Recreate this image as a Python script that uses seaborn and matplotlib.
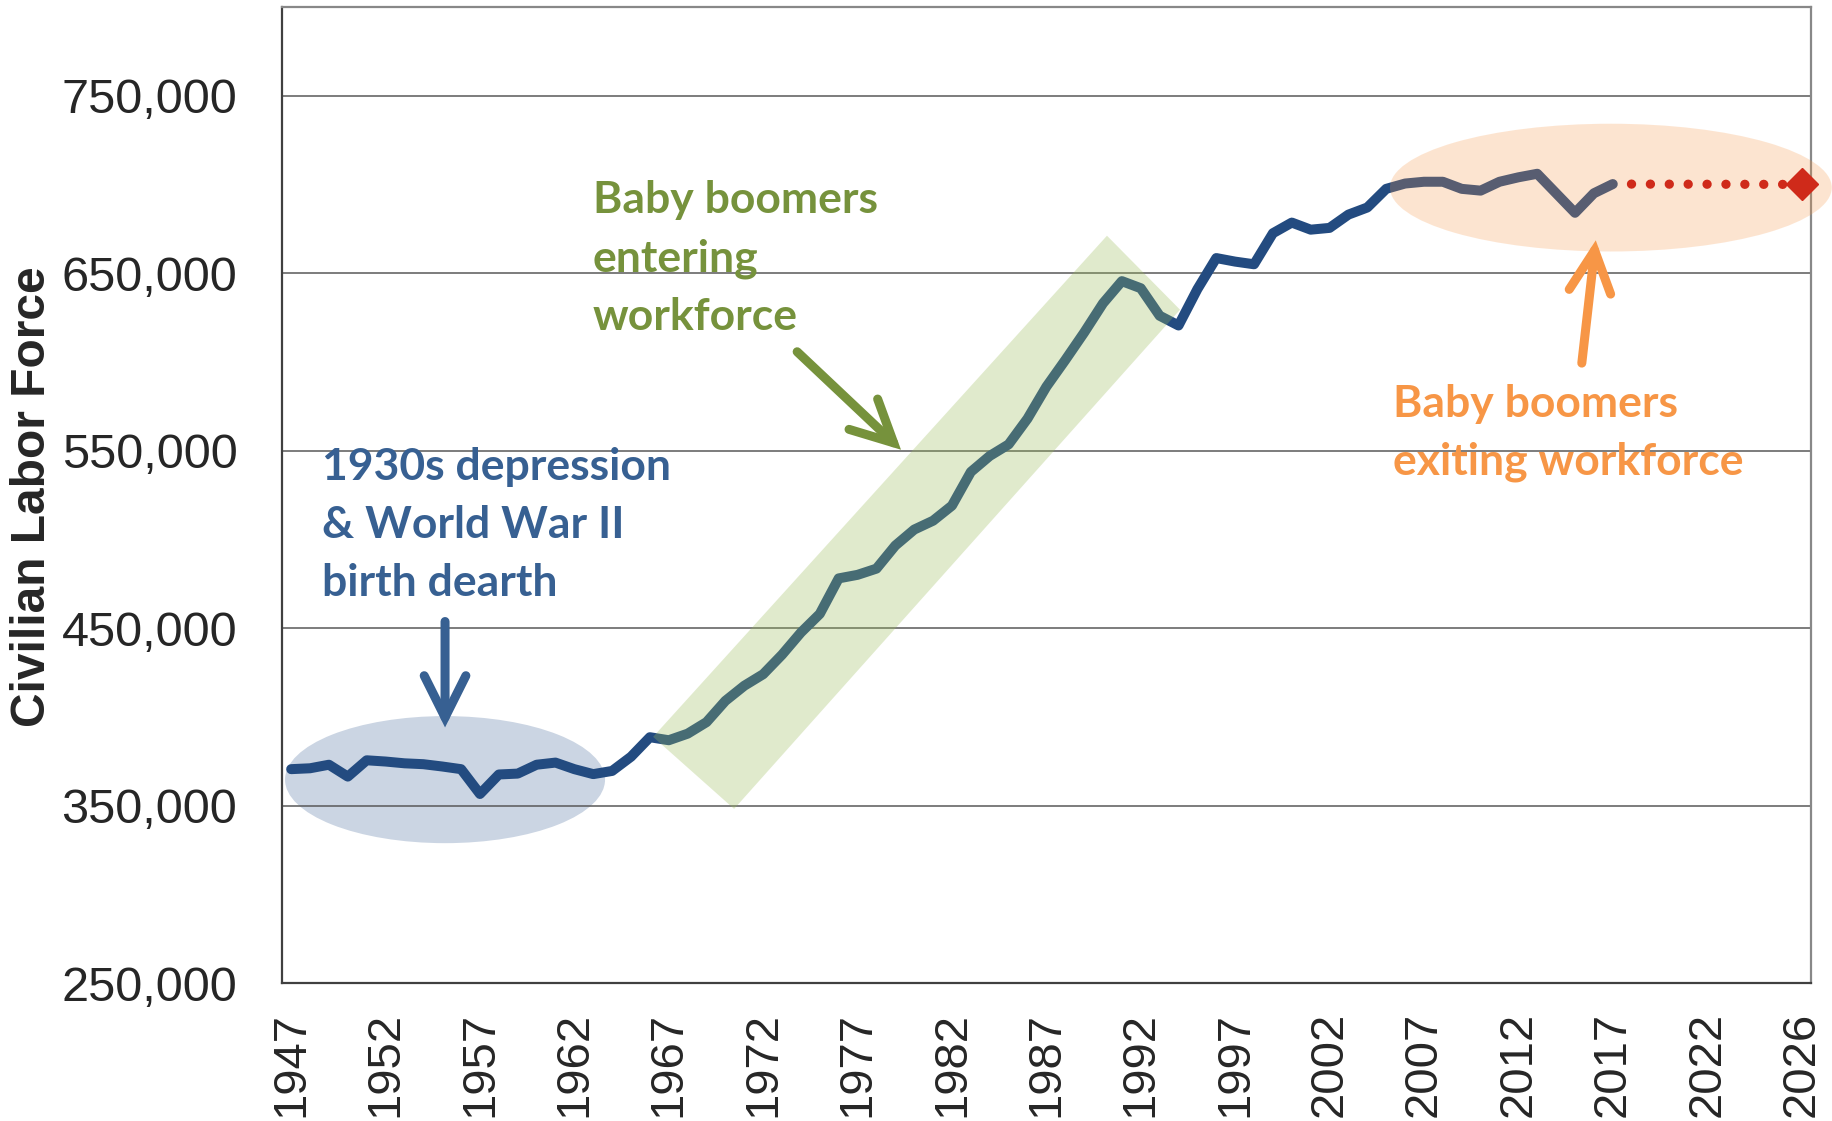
import numpy as np
import matplotlib.pyplot as plt
import seaborn as sns
from matplotlib.patches import Ellipse, Polygon
from matplotlib.ticker import FuncFormatter

# Civilian labor force, one value per year 1947-2017
labor_force = [370500, 371000, 373000, 366300, 375500, 374800, 373800, 373300, 372000, 370500,
               356500, 367500, 368000, 373000, 374200, 370500, 367700, 369500, 377500, 388500,
               386800, 390500, 397000, 409000, 417500, 424000, 435000, 447500, 458000, 478000,
               480000, 483500, 496500, 505500, 510500, 519000, 538000, 547000, 553500, 568000,
               586000, 601000, 616500, 633000, 645500, 641500, 626000, 620500, 641000, 658500,
               656500, 655000, 672500, 678500, 674500, 675500, 683000, 687000, 697500, 700500,
               701500, 701500, 697500, 696500, 701500, 704000, 706000, 695000, 684000, 695000,
               700200]
# projection: from the last actual year out to the end of the axis
proj_slots = [70, 80]
proj_values = [700200, 700000]

tick_slots = list(range(0, 81, 5))
tick_labels = ['1947', '1952', '1957', '1962', '1967', '1972', '1977', '1982', '1987',
               '1992', '1997', '2002', '2007', '2012', '2017', '2022', '2026']
y_ticks = [250000, 350000, 450000, 550000, 650000, 750000]

sns.set_style('white')
plt.rcParams['font.family'] = ['Liberation Sans', 'DejaVu Sans']

fig = plt.figure(figsize=(18.33, 11.21), dpi=100)
ax = fig.add_axes([0.1537, 0.1231, 0.8343, 0.8707])

x_actual = np.arange(len(labor_force))
sns.lineplot(x=x_actual, y=labor_force, ax=ax, color='#234B80', linewidth=7.2,
             solid_capstyle='round', solid_joinstyle='round', zorder=3)

red = '#CF2A1A'
ax.plot(proj_slots, proj_values, color=red, lw=6.7, linestyle=(0.02, (0.01, 2.02)),
        dash_capstyle='round', zorder=6)
ax.plot(proj_slots[-1], proj_values[-1], marker='D', ms=16.5, color=red, zorder=7,
        clip_on=False)

# highlight shapes
ax.add_patch(Ellipse((8.15, 364600), 16.95, 71600, facecolor='#CBD5E3', edgecolor='none', zorder=0.3))
ax.add_patch(Polygon([(19.17, 388700), (43.21, 671100), (47.08, 629400), (23.46, 348100)],
                     facecolor='#9BBB59', edgecolor='none', alpha=0.3, zorder=4))
ax.add_patch(Ellipse((69.9, 698200), 23.4, 72000, facecolor='#F79646', edgecolor='none',
                     alpha=0.25, zorder=4, clip_on=False))

# annotations (y = baseline of the last line)
note_font = dict(family=['Lato', 'DejaVu Sans'], fontweight='bold', fontsize=32,
                 va='baseline', ha='left', linespacing=1.55, zorder=8)
ax.text(1.62, 467800, '1930s depression\n& World War II\nbirth dearth', color='#376092', **note_font)
ax.text(15.97, 618100, 'Baby boomers\nentering\nworkforce', color='#76923C', **note_font)
ax.text(58.38, 536400, 'Baby boomers\nexiting workforce', color='#F79646', **note_font)

def arrow(tail, tip, color):
    ax.annotate('', xy=tip, xytext=tail, zorder=8,
                arrowprops=dict(arrowstyle='->,head_length=1.5,head_width=0.75', mutation_scale=20,
                                color=color, lw=6.5, shrinkA=0, shrinkB=0,
                                capstyle='round', joinstyle='miter'))

arrow((8.15, 453700), (8.15, 394000), '#376092')
arrow((26.8, 605700), (32.3, 550500), '#76923C')
arrow((68.36, 599300), (69.1, 668500), '#F79646')

# axes styling
ax.set_xlim(-0.5, 80.5)
ax.set_ylim(250000, 800000)
ax.set_xticks(tick_slots)
ax.set_xticklabels(tick_labels, rotation=90)
ax.set_xticks(np.arange(-0.5, 81, 1), minor=True)
ax.set_yticks(y_ticks)
ax.yaxis.set_major_formatter(FuncFormatter(lambda v, p: f'{int(v):,}'))
ax.tick_params(axis='x', which='major', length=0, pad=21, labelsize=34)
ax.tick_params(axis='x', which='minor', length=10, width=1.2, color='#404040', direction='out')
ax.tick_params(axis='y', length=0, pad=32, labelsize=35)
ax.set_axisbelow(True)
ax.yaxis.grid(True, color='#595959', lw=1.1)
ax.xaxis.grid(False)
for side in ['left', 'bottom']:
    ax.spines[side].set_color('#404040')
    ax.spines[side].set_linewidth(1.6)
for side in ['top', 'right']:
    ax.spines[side].set_color('#888888')
    ax.spines[side].set_linewidth(1.6)
ax.set_xlabel('')
ax.set_ylabel('')

fig.text(33 / 1833, 1 - 497 / 1121, 'Civilian Labor Force', rotation=90, ha='center', va='center',
         fontsize=34.5, fontweight='bold', family=['Liberation Sans Narrow', 'Liberation Sans'])

fig.savefig('out.png', dpi=100)
